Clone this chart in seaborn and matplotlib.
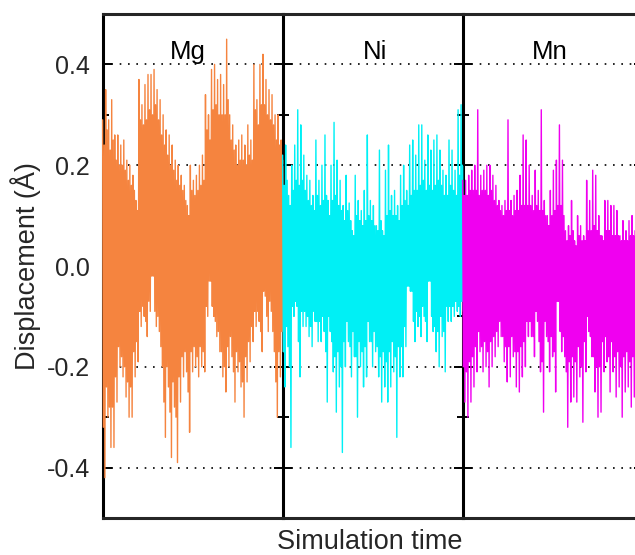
import numpy as np
import pandas as pd
import matplotlib
matplotlib.use("Agg")
import matplotlib.pyplot as plt
from matplotlib.lines import Line2D
from matplotlib.ticker import MultipleLocator
import seaborn as sns

# Atom species shown side by side, one panel each
elements = ["Mg", "Ni", "Mn"]
colors = ["#F5843F", "#00F0F5", "#F000F0"]

# Displacement trajectories (Å): successive maxima and minima of the vibration
mg_peaks = [
    .29, .24, .35, .27, .29, .23, .33, .25, .26, .21, .26, .20, .24, .20, .25, .19, .21, .17, .20, .16,
    .18, .15, .13, .11, .37, .29, .32, .28, .36, .29, .38, .31, .38, .30, .39, .32, .35, .29, .33, .26,
    .30, .24, .27, .22, .26, .20, .24, .19, .21, .17, .20, .16, .18, .15, .16, .13, .12, .10, .20, .15,
    .17, .14, .18, .15, .20, .16, .22, .17, .34, .27, .30, .25, .39, .31, .40, .32, .37, .30, .38, .30,
    .36, .30, .45, .33, .30, .25, .28, .23, .24, .20, .25, .21, .26, .21, .24, .20, .28, .22, .25, .21,
    .40, .31, .33, .28, .40, .32, .42, .32, .37, .30, .35, .29, .34, .28, .30, .25, .30, .24, .25, .21,
]
mg_troughs = [
    -.32, -.42, -.24, -.30, -.28, -.36, -.28, -.36, -.22, -.27, -.16, -.20, -.18, -.22, -.20, -.26, -.23, -.30, -.24, -.30,
    -.17, -.22, -.15, -.19, -.09, -.12, -.08, -.10, -.11, -.14, -.07, -.09, -.02, -.02, -.09, -.12, -.10, -.13, -.16, -.20,
    -.27, -.34, -.20, -.24, -.29, -.38, -.23, -.28, -.30, -.39, -.22, -.27, -.18, -.22, -.17, -.21, -.25, -.33, -.17, -.21,
    -.16, -.20, -.18, -.22, -.16, -.20, -.17, -.21, -.08, -.10, -.03, -.03, -.08, -.10, -.11, -.14, -.13, -.17, -.17, -.22,
    -.20, -.25, -.16, -.20, -.14, -.18, -.21, -.27, -.17, -.21, -.19, -.24, -.23, -.30, -.18, -.23, -.15, -.19, -.12, -.15,
    -.09, -.12, -.09, -.11, -.13, -.17, -.05, -.06, -.10, -.13, -.07, -.09, -.13, -.17, -.23, -.30, -.17, -.22, -.13, -.17,
]

ni_peaks = [
    .22, .16, .24, .17, .14, .12, .20, .15, .24, .17, .31, .16, .28, .17, .22, .15, .18, .13, .17, .12,
    .14, .11, .25, .14, .17, .12, .20, .13, .26, .14, .13, .10, .20, .13, .285, .14, .21, .12, .17, .11,
    .12, .09, .18, .11, .125, .09, .07, .06, .18, .10, .13, .09, .11, .08, .15, .09, .26, .10, .13, .09,
    .12, .08, .08, .07, .23, .09, .07, .06, .19, .10, .24, .11, .14, .10, .15, .10, .12, .09, .18, .12,
    .20, .13, .15, .12, .24, .14, .25, .15, .22, .15, .28, .16, .28, .17, .21, .15, .26, .16, .23, .15,
    .25, .16, .26, .17, .23, .16, .19, .14, .18, .14, .25, .16, .23, .15, .19, .14, .31, .18, .32, .20,
]
ni_troughs = [
    -.17, -.24, -.12, -.16, -.20, -.36, -.08, -.10, -.07, -.08, -.15, -.22, -.09, -.12, -.09, -.12, -.10, -.14, -.12, -.16,
    -.09, -.11, -.11, -.15, -.11, -.15, -.10, -.13, -.17, -.27, -.10, -.13, -.15, -.21, -.18, -.29, -.17, -.24, -.20, -.37,
    -.15, -.20, -.11, -.15, -.16, -.22, -.13, -.18, -.18, -.30, -.15, -.20, -.17, -.24, -.16, -.22, -.11, -.15, -.15, -.20,
    -.13, -.17, -.16, -.22, -.18, -.27, -.17, -.24, -.19, -.27, -.17, -.24, -.15, -.21, -.18, -.34, -.16, -.22, -.16, -.22,
    -.12, -.16, -.04, -.04, -.05, -.05, -.11, -.15, -.09, -.12, -.10, -.14, -.08, -.10, -.11, -.15, -.03, -.03, -.10, -.13,
    -.12, -.17, -.13, -.20, -.10, -.14, -.13, -.21, -.08, -.11, -.08, -.11, -.08, -.10, -.07, -.09, -.08, -.10, -.07, -.09,
]

mn_peaks = [
    .17, .14, .17, .14, .18, .15, .19, .15, .20, .15, .31, .14, .18, .15, .19, .15, .20, .14, .20, .15,
    .18, .13, .16, .12, .13, .11, .12, .10, .13, .11, .29, .11, .13, .10, .14, .11, .15, .11, .18, .12,
    .26, .12, .25, .12, .20, .12, .14, .11, .19, .12, .15, .11, .31, .11, .13, .10, .10, .08, .15, .10,
    .19, .11, .21, .12, .28, .12, .21, .10, .07, .05, .08, .06, .13, .07, .05, .04, .10, .06, .08, .05,
    .06, .05, .17, .07, .13, .07, .19, .08, .18, .07, .10, .06, .06, .05, .13, .07, .13, .07, .12, .06,
    .12, .06, .11, .06, .06, .05, .09, .05, .07, .05, .09, .06, .10, .06, .07, .05, .06, .05, .07, .05,
]
mn_troughs = [
    -.20, -.27, -.21, -.30, -.19, -.27, -.18, -.24, -.16, -.21, -.13, -.17, -.16, -.21, -.15, -.20, -.17, -.24, -.15, -.20,
    -.14, -.18, -.13, -.16, -.11, -.14, -.14, -.19, -.16, -.23, -.16, -.22, -.14, -.18, -.17, -.24, -.17, -.25, -.16, -.22,
    -.15, -.20, -.11, -.14, -.11, -.14, -.14, -.18, -.09, -.11, -.15, -.21, -.19, -.29, -.11, -.14, -.15, -.21, -.14, -.18,
    -.17, -.25, -.07, -.07, -.13, -.17, -.14, -.18, -.21, -.32, -.19, -.27, -.18, -.26, -.19, -.27, -.16, -.22, -.20, -.31,
    -.15, -.21, -.10, -.13, -.14, -.18, -.18, -.25, -.20, -.30, -.20, -.29, -.15, -.21, -.14, -.19, -.18, -.25, -.15, -.21,
    -.18, -.26, -.17, -.24, -.20, -.30, -.18, -.25, -.17, -.24, -.19, -.28, -.18, -.26, -.22, -.35, -.19, -.27, -.18, -.26,
]

y_ticks = [-0.4, -0.2, 0.0, 0.2, 0.4]
y_tick_labels = ["-0.4", "-0.2", "0.0", "0.2", "0.4"]
title_x = [0.469, 0.511, 0.483]

sns.set_style("ticks")
plt.rcParams["font.family"] = ["Liberation Sans", "DejaVu Sans"]
plt.rcParams["axes.unicode_minus"] = False

W, H = 635, 555
fig = plt.figure(figsize=(W / 100, H / 100), dpi=100)
fig.patch.set_facecolor("white")

ax_left, ax_bottom, ax_w, ax_h = 103 / W, 37 / H, 180 / W, 504 / H
axes = [fig.add_axes([ax_left + i * ax_w, ax_bottom, ax_w, ax_h]) for i in range(3)]

series_sets = [(mg_peaks, mg_troughs), (ni_peaks, ni_troughs), (mn_peaks, mn_troughs)]
frame_lw = 2.2

for i, (ax, name, color, (peaks, troughs)) in enumerate(zip(axes, elements, colors, series_sets)):
    disp = np.column_stack([peaks, troughs]).ravel()
    df = pd.DataFrame({"step": np.arange(len(disp)), "disp": disp})
    sns.lineplot(data=df, x="step", y="disp", ax=ax, color=color, lw=1.0,
                 estimator=None, legend=False, clip_on=False, zorder=2)
    ax.set_xlim(0.5, len(disp) - 1.5)
    ax.set_ylim(-0.5, 0.5)
    ax.set_facecolor("none")

    # dotted reference lines at the major displacement values, under the traces
    for v in y_ticks:
        ax.axhline(v, color="black", lw=1.2, ls=(0, (1, 4)), zorder=0.5)

    ax.spines["left"].set_visible(False)
    ax.spines["right"].set_visible(False)
    ax.spines["top"].set_linewidth(frame_lw)
    ax.spines["bottom"].set_linewidth(frame_lw)

    ax.set_xticks([])
    ax.set_yticks(y_ticks)
    ax.yaxis.set_minor_locator(MultipleLocator(0.1))
    ax.tick_params(axis="y", which="both", direction="in", left=True, right=True,
                   width=1.4, color="black", pad=9.5)
    ax.tick_params(axis="y", which="major", length=6.5)
    ax.tick_params(axis="y", which="minor", length=4.5)
    if i == 0:
        ax.set_yticklabels(y_tick_labels, fontsize=18)
    else:
        ax.tick_params(axis="y", which="both", labelleft=False)
    ax.set_xlabel("")
    ax.set_ylabel("")

    ax.text(title_x[i], 0.911, name, transform=ax.transAxes,
            ha="center", va="baseline", fontsize=18.5, color="black")

# vertical frame lines between panels, drawn beneath the traces
edges = [a.get_position().x0 for a in axes] + [axes[-1].get_position().x1]
for x in edges:
    fig.add_artist(Line2D([x, x], [ax_bottom, ax_bottom + ax_h], transform=fig.transFigure,
                          color="black", lw=frame_lw, zorder=-1, solid_capstyle="projecting"))

fig.text(26 / W, 1 - 266 / H, "Displacement (Å)", rotation=90,
         ha="center", va="center", fontsize=19.5)
fig.text(370 / W, 6 / H, "Simulation time", ha="center", va="baseline", fontsize=19.5)

fig.savefig("out.png", dpi=100, facecolor="white")
